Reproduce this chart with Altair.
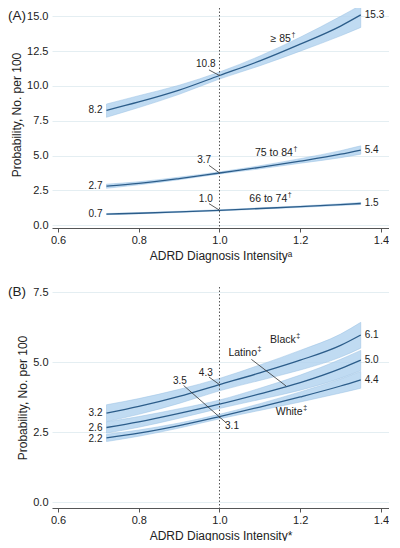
import altair as alt
import pandas as pd

FONT = "Liberation Sans"
LINE = "#2c5d8a"
BAND = "#b6d5f0"
BAND_EDGE = "#8ab8e0"
TXT = "#222222"

x_pts = [0.72, 0.80, 0.90, 1.00, 1.10, 1.20, 1.30, 1.35]

# Panel A: age groups
age85 = [8.25, 8.85, 9.70, 10.75, 11.80, 13.00, 14.30, 15.10]
age85_lo = [7.75, 8.45, 9.40, 10.50, 11.45, 12.50, 13.60, 14.20]
age85_hi = [8.70, 9.30, 10.05, 11.00, 12.15, 13.50, 15.00, 15.80]
age75 = [2.80, 3.00, 3.35, 3.75, 4.15, 4.60, 5.10, 5.40]
age75_lo = [2.65, 2.90, 3.27, 3.68, 4.05, 4.45, 4.85, 5.10]
age75_hi = [2.95, 3.12, 3.45, 3.83, 4.27, 4.78, 5.35, 5.70]
age66 = [0.80, 0.86, 0.96, 1.07, 1.20, 1.33, 1.48, 1.56]
age66_lo = [0.76, 0.82, 0.92, 1.03, 1.16, 1.28, 1.42, 1.49]
age66_hi = [0.84, 0.90, 1.00, 1.11, 1.24, 1.38, 1.54, 1.63]

# Panel B: race/ethnicity
black = [3.18, 3.42, 3.78, 4.20, 4.62, 5.07, 5.60, 5.97]
black_lo = [2.88, 3.14, 3.53, 3.98, 4.35, 4.72, 5.18, 5.50]
black_hi = [3.48, 3.70, 4.03, 4.42, 4.90, 5.42, 6.00, 6.42]
latino = [2.67, 2.87, 3.17, 3.50, 3.87, 4.27, 4.77, 5.07]
latino_lo = [2.47, 2.68, 3.00, 3.35, 3.67, 4.00, 4.43, 4.70]
latino_hi = [2.87, 3.06, 3.34, 3.65, 4.07, 4.54, 5.10, 5.42]
white = [2.30, 2.47, 2.74, 3.06, 3.40, 3.76, 4.15, 4.37]
white_lo = [2.17, 2.36, 2.65, 2.98, 3.28, 3.58, 3.90, 4.07]
white_hi = [2.43, 2.58, 2.83, 3.14, 3.52, 3.94, 4.40, 4.67]

# Annotations panel A
a_val_text = ["8.2", "2.7", "0.7", "15.3", "5.4", "1.5", "10.8", "3.7", "1.0"]
a_val_x = [0.71, 0.71, 0.71, 1.36, 1.36, 1.36, 0.966, 0.962, 0.966]
a_val_y = [8.25, 2.80, 0.80, 15.10, 5.40, 1.56, 11.60, 4.70, 1.90]
a_val_align = ["right", "right", "right", "left", "left", "left", "center", "center", "center"]
a_lead_x = [0.974, 0.974, 0.974]
a_lead_y = [11.15, 4.30, 1.55]
a_lead_x2 = [1.0, 1.0, 1.0]
a_lead_y2 = [10.75, 3.75, 1.08]
a_grp_text = ["≥ 85", "75 to 84", "66 to 74"]
a_grp_x = [1.177, 1.182, 1.168]
a_grp_y = [13.4, 5.2, 1.86]

# Annotations panel B
b_val_text = ["3.2", "2.6", "2.2", "6.1", "5.0", "4.4", "4.3", "3.5", "3.1"]
b_val_x = [0.71, 0.71, 0.71, 1.36, 1.36, 1.36, 0.966, 0.902, 1.031]
b_val_y = [3.18, 2.67, 2.26, 5.97, 5.07, 4.37, 4.60, 4.34, 2.71]
b_val_align = ["right", "right", "right", "left", "left", "left", "center", "center", "center"]
b_lead_x = [0.974, 0.911, 1.079]
b_lead_y = [4.47, 4.17, 5.10]
b_lead_x2 = [1.0, 1.017, 1.165]
b_lead_y2 = [4.20, 2.83, 4.15]
b_grp_text = ["Black", "Latino", "White"]
b_grp_x = [1.189, 1.093, 1.206]
b_grp_y = [5.80, 5.31, 3.23]

X_TICKS = [0.6, 0.8, 1.0, 1.2, 1.4]
X_DOMAIN = [0.585, 1.42]


def series_df(names, vals, los, his):
    rows = []
    for n, v, lo, hi in zip(names, vals, los, his):
        for x, a, b, c in zip(x_pts, v, lo, hi):
            rows.append({"s": n, "x": x, "y": a, "lo": b, "hi": c})
    return pd.DataFrame(rows)


def panel(sdf, val_df, lead_df, grp_df, ydomain, yticks, height, xtitle, tag, dag):
    xs = alt.Scale(domain=X_DOMAIN, nice=False, zero=False)
    ys = alt.Scale(domain=ydomain, nice=False, zero=False)
    xax = alt.Axis(values=X_TICKS, format=".1f", title=xtitle, grid=False,
                   domainColor="#555", tickColor="#555", tickSize=4,
                   labelPadding=2, titlePadding=5, labelOverlap=False)
    yax = alt.Axis(values=yticks, format=".1f", title="Probability, No. per 100",
                   grid=True, gridColor="#e4eef2", domain=False, ticks=False,
                   labelPadding=4, titlePadding=3, labelOverlap=False)

    def X(f):
        return alt.X(f, scale=xs, axis=xax)

    def Y(f):
        return alt.Y(f, scale=ys, axis=yax)

    base = alt.Chart(sdf)
    band = base.mark_area(color=BAND, opacity=0.85, stroke=BAND_EDGE,
                          strokeWidth=0.5, interpolate="monotone").encode(
        x=X("x:Q"), y=Y("lo:Q"), y2="hi:Q", detail="s:N",
    )
    line = base.mark_line(color=LINE, strokeWidth=1.3, interpolate="monotone").encode(
        x=X("x:Q"), y=Y("y:Q"), detail="s:N"
    )
    vline = alt.Chart(pd.DataFrame({"x": [1.0]})).mark_rule(
        color="#555", strokeDash=[1.5, 2], strokeWidth=1
    ).encode(x=X("x:Q"))
    leads = alt.Chart(lead_df).mark_rule(color="#333", strokeWidth=0.8).encode(
        x=X("x:Q"), y=Y("y:Q"), x2="x2:Q", y2="y2:Q"
    )
    layers = [band, line, vline, leads]
    for al in ["left", "right", "center"]:
        sub = val_df[val_df["align"] == al]
        layers.append(
            alt.Chart(sub).mark_text(align=al, baseline="middle", font=FONT,
                                     fontSize=10, color=TXT).encode(
                x=X("x:Q"), y=Y("y:Q"), text="t:N"
            )
        )
    layers.append(
        alt.Chart(grp_df).mark_text(align="right", baseline="middle", font=FONT,
                                    fontSize=10.5, color=TXT).encode(
            x=X("x:Q"), y=Y("y:Q"), text="t:N"
        )
    )
    layers.append(
        alt.Chart(grp_df.assign(d=dag)).mark_text(align="left", baseline="middle",
                                                  font=FONT, fontSize=7, dy=-4,
                                                  dx=0.5, color=TXT).encode(
            x=X("x:Q"), y=Y("y:Q"), text="d:N"
        )
    )
    layers.append(
        alt.Chart(pd.DataFrame({"t": [tag], "y": [yticks[-1]]})).mark_text(
            align="left", baseline="middle", font=FONT, fontSize=13.5, color=TXT
        ).encode(x=alt.value(-44), y=Y("y:Q"), text="t:N")
    )
    return alt.layer(*layers).properties(width=337, height=height)


sdf_a = series_df(["85", "75", "66"], [age85, age75, age66],
                  [age85_lo, age75_lo, age66_lo], [age85_hi, age75_hi, age66_hi])
sdf_b = series_df(["black", "latino", "white"], [black, latino, white],
                  [black_lo, latino_lo, white_lo], [black_hi, latino_hi, white_hi])

val_a = pd.DataFrame({"t": a_val_text, "x": a_val_x, "y": a_val_y, "align": a_val_align})
val_b = pd.DataFrame({"t": b_val_text, "x": b_val_x, "y": b_val_y, "align": b_val_align})
lead_a = pd.DataFrame({"x": a_lead_x, "y": a_lead_y, "x2": a_lead_x2, "y2": a_lead_y2})
lead_b = pd.DataFrame({"x": b_lead_x, "y": b_lead_y, "x2": b_lead_x2, "y2": b_lead_y2})
grp_a = pd.DataFrame({"t": a_grp_text, "x": a_grp_x, "y": a_grp_y})
grp_b = pd.DataFrame({"t": b_grp_text, "x": b_grp_x, "y": b_grp_y})

pa = panel(sdf_a, val_a, lead_a, grp_a, [-0.2, 16.1],
           [0.0, 2.5, 5.0, 7.5, 10.0, 12.5, 15.0], 227,
           "ADRD Diagnosis Intensityᵃ", "(A)", "†")
pb = panel(sdf_b, val_b, lead_b, grp_b, [-0.2, 7.68],
           [0.0, 2.5, 5.0, 7.5], 221,
           "ADRD Diagnosis Intensity*", "(B)", "‡")

chart = alt.vconcat(pa, pb, spacing=24).configure_view(stroke=None).configure_axis(
    labelFont=FONT, titleFont=FONT, labelFontSize=11, titleFontSize=12,
    labelColor=TXT, titleColor=TXT, titleFontWeight="normal"
).properties(padding={"top": -8, "left": 0, "right": 0, "bottom": 0},
             background="white")

chart.save("out.html", embed_options={"renderer": "svg", "actions": False})
